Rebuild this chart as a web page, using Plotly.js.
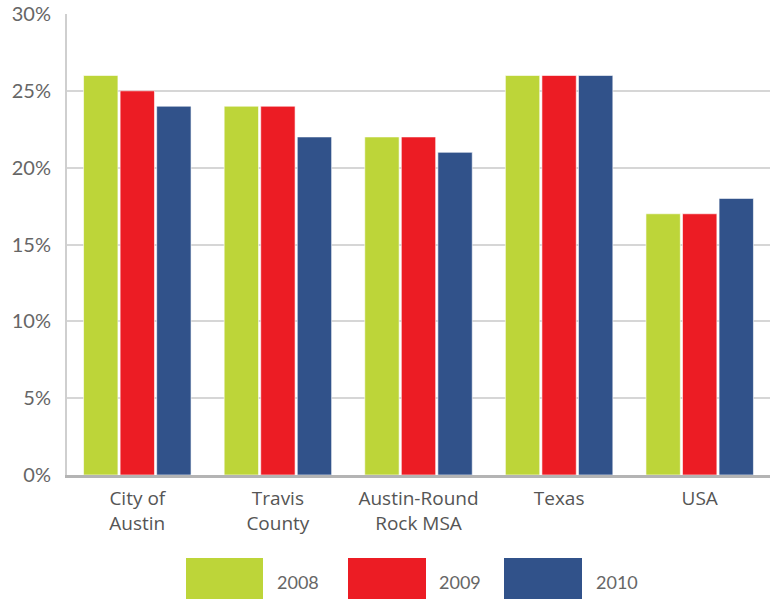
<!DOCTYPE html>
<html>
<head>
<meta charset="utf-8">
<script src="https://cdn.plot.ly/plotly-3.0.1.min.js"></script>
<style>html,body{margin:0;padding:0;background:#fff;}#chart{width:770px;height:599px;}</style>
</head>
<body>
<div id="chart"></div>
<script>
var categories = ["City of<br>Austin", "Travis<br>County", "Austin-Round<br>Rock MSA", "Texas", "USA"];
var years = ["2008", "2009", "2010"];
var values2008 = [26, 24, 22, 26, 17];
var values2009 = [25, 24, 22, 26, 17];
var values2010 = [24, 22, 21, 26, 18];
var yTickVals = [0, 5, 10, 15, 20, 25, 30];
var yTickLabels = ["0%", "5%", "10%", "15%", "20%", "25%", "30%"];

var colors = ["#bdd539", "#ec1c24", "#31528a"];
var series = [values2008, values2009, values2010];

var traces = series.map(function (vals, i) {
  return {
    type: "bar",
    name: years[i],
    x: categories,
    y: vals,
    marker: { color: colors[i], line: { color: "rgba(255,255,255,0.6)", width: 1 } },
    hoverinfo: "none"
  };
});

// custom large-swatch legend (paper coordinates)
var shapes = [];
var annotations = [];
var swX = [[186, 263], [348, 426], [504, 582]];
var labX = [275, 437, 594];
var plotL = 67, plotW = 703, plotB = 475, plotH = 461;
function px(x) { return (x - plotL) / plotW; }
function py(y) { return (plotB - y) / plotH; }
for (var i = 0; i < years.length; i++) {
  shapes.push({
    type: "rect", xref: "paper", yref: "paper",
    x0: px(swX[i][0]), x1: px(swX[i][1]), y0: py(558), y1: py(600),
    fillcolor: colors[i], line: { width: 0 }
  });
  annotations.push({
    xref: "paper", yref: "paper", x: px(labX[i]), y: py(582),
    xanchor: "left", yanchor: "middle", showarrow: false,
    text: years[i], font: { family: "Lato, sans-serif", size: 18, color: "#666" }
  });
}

var layout = {
  width: 770, height: 599,
  margin: { l: 67, r: 0, t: 14, b: 124 },
  paper_bgcolor: "#fff", plot_bgcolor: "#fff",
  barmode: "group", bargap: 0.22, bargroupgap: 0.06,
  showlegend: false,
  xaxis: {
    showline: true, linecolor: "#b4b4b4", linewidth: 3,
    tickfont: { family: "Open Sans, sans-serif", size: 19, color: "#555" },
    ticks: "outside", ticklen: 4, tickcolor: "rgba(0,0,0,0)", fixedrange: true
  },
  yaxis: {
    range: [0, 30], tickmode: "array", tickvals: yTickVals, ticktext: yTickLabels,
    showline: true, linecolor: "#cfcfcf", linewidth: 2,
    gridcolor: "#d6d6d6", gridwidth: 2, zeroline: false,
    ticks: "outside", ticklen: 10, tickcolor: "rgba(0,0,0,0)",
    tickfont: { family: "Lato, sans-serif", size: 20, color: "#666" },
    fixedrange: true
  },
  shapes: shapes,
  annotations: annotations
};

Plotly.newPlot("chart", traces, layout, { displayModeBar: false, staticPlot: true });
</script>
</body>
</html>
